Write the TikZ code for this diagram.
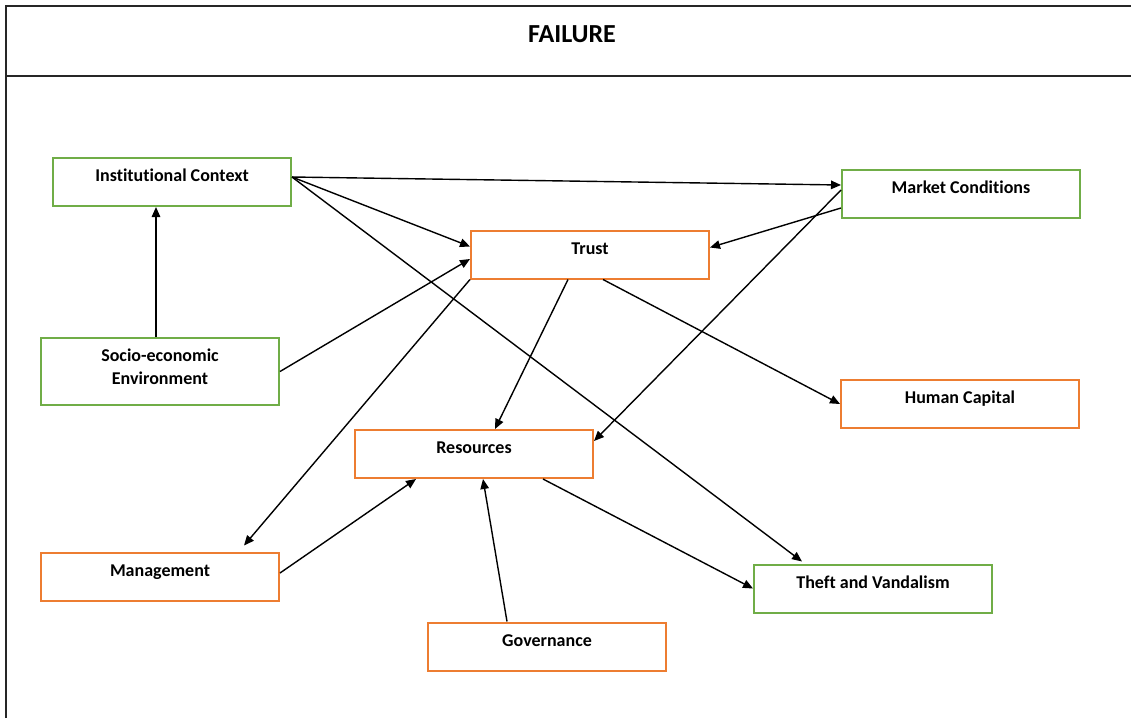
\documentclass[tikz,border=0pt]{standalone}
\usepackage{fontspec}
\setmainfont{Carlito}[Ligatures=NoCommon]
\usetikzlibrary{arrows.meta,calc}
\definecolor{boxgreen}{HTML}{70AD47}
\definecolor{boxorange}{HTML}{ED7D31}
\definecolor{rulegray}{HTML}{262626}
\begin{document}
\begin{tikzpicture}[x=1pt,y=-1pt,
  box/.style={draw, line width=2pt, fill=white, minimum width=238pt,
    inner xsep=0pt, inner ysep=0pt, text height=23.5pt, text depth=24.5pt,
    font=\fontsize{18}{23.3}\selectfont\bfseries},
  greenbox/.style={box, draw=boxgreen},
  orangebox/.style={box, draw=boxorange},
  link/.style={line width=1.4pt, -{Triangle[length=10pt,width=8.5pt]}},
]
\useasboundingbox (0,0) rectangle (1131,718);

% page frame and header rule
\draw[line width=1.2pt, rulegray] (6,718) -- (6,6) -- (1131,6);
\draw[line width=2.6pt, rulegray] (6,76) -- (1131,76);
\node[font=\fontsize{26}{30}\selectfont\bfseries] (title) at (572,34) {FAILURE};

% factor boxes
\node[greenbox]  (inst)   at (172,182)   {Institutional Context};
\node[greenbox]  (market) at (961,194)   {Market Conditions};
\node[orangebox] (trust)  at (590,254.5) {Trust};
\node[greenbox, text depth=43.5pt] (socio) at (160,371.5)
  {\begin{tabular}[t]{@{}c@{}}Socio-economic\\Environment\end{tabular}};
\node[orangebox] (human)  at (960,404)   {Human Capital};
\node[orangebox] (res)    at (474,454)   {Resources};
\node[orangebox] (mgmt)   at (160,576.5) {Management};
\node[greenbox]  (theft)  at (873,588.5) {Theft and Vandalism};
\node[orangebox] (gov)    at (547,646.5) {Governance};

% influences
\draw[link] ($(inst.east)+(0,-5)$) -- ($(market.west)+(0,-9)$);
\draw[link] ($(inst.east)+(0,-5)$) -- ($(trust.west)+(0,-8)$);
\draw[link] ($(inst.east)+(0,-5)$) -- ($(theft.north west)+(49,-2)$);
\draw[link] (socio.east) -- ($(trust.west)+(0,4.5)$);
\draw[link] ($(socio.north)+(-4,0)$) -- ($(inst.south west)+(104,0)$);
\draw[link] ($(market.west)+(0,14)$) -- ($(trust.east)+(0,-7)$);
\draw[link] ($(market.west)+(0,-4)$) -- ($(res.east)+(0,-13)$);
\draw[link] (trust.south west) -- ($(mgmt.north west)+(204,-6)$);
\draw[link] ($(trust.south west)+(98,0)$) -- ($(res.north west)+(141,0)$);
\draw[link] ($(trust.south west)+(133,0)$) -- (human.west);
\draw[link] ($(mgmt.east)+(0,-3.5)$) -- ($(res.south west)+(62,0)$);
\draw[link] ($(gov.north west)+(80,0)$) -- ($(res.south west)+(129,0)$);
\draw[link] ($(res.south west)+(189,0)$) -- (theft.west);
\end{tikzpicture}
\end{document}
